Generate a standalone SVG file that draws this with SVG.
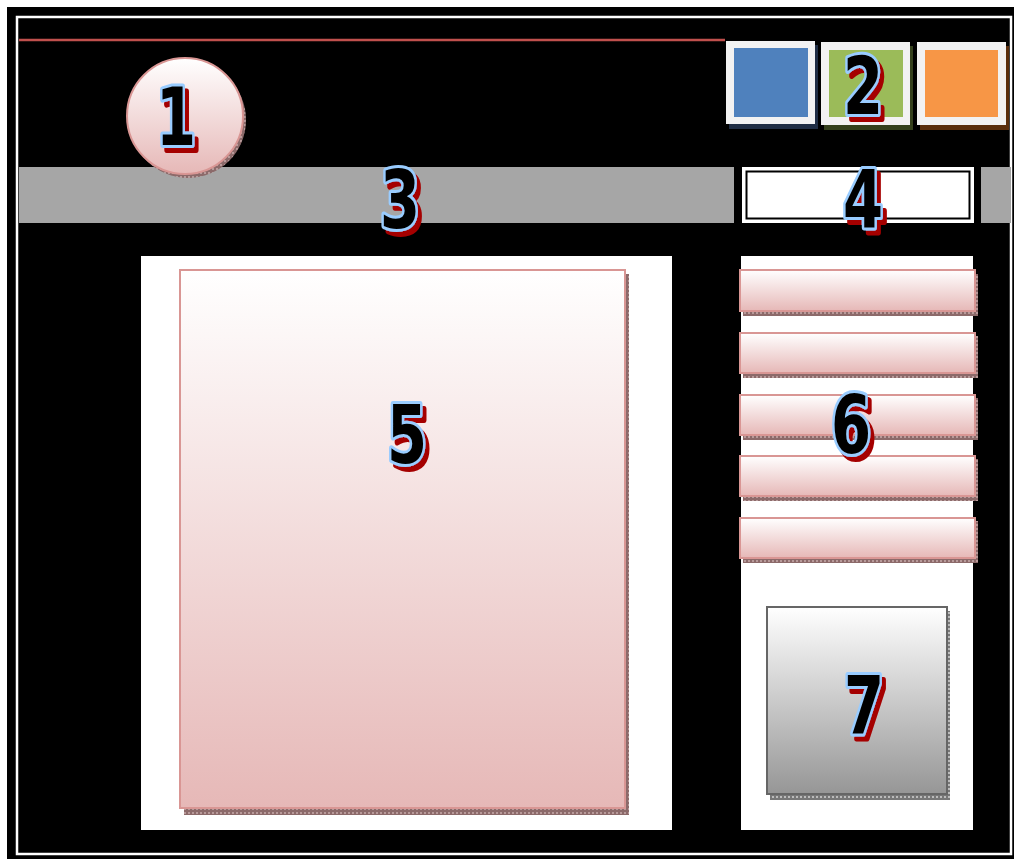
<svg xmlns="http://www.w3.org/2000/svg" width="1014" height="859" viewBox="0 0 1014 859">
<style>
.num{font-family:"Liberation Sans Narrow","DejaVu Sans Condensed",sans-serif;font-weight:bold;font-size:80px;text-anchor:middle;fill:#000;stroke:#99ccff;stroke-width:6;stroke-linejoin:round;paint-order:stroke fill;filter:url(#redShadow)}
.pink{fill:url(#gPink);stroke:#d99694;stroke-width:2}
.pshadow{fill:url(#hatch)}
</style>
<defs>
<filter id="redShadow" x="-30%" y="-30%" width="160%" height="160%">
<feOffset in="SourceAlpha" dx="5" dy="5" result="off"/>
<feFlood flood-color="#a50000"/>
<feComposite in2="off" operator="in" result="sh"/>
<feMerge><feMergeNode in="sh"/><feMergeNode in="SourceGraphic"/></feMerge>
</filter>
<linearGradient id="gPink" x1="0" y1="0" x2="0" y2="1">
<stop offset="0" stop-color="#ffffff"/><stop offset="1" stop-color="#e6b8b7"/>
</linearGradient>
<linearGradient id="gGray" x1="0" y1="0" x2="0" y2="1">
<stop offset="0" stop-color="#ffffff"/><stop offset="1" stop-color="#969696"/>
</linearGradient>
<pattern id="hatch" width="4" height="4" patternUnits="userSpaceOnUse">
<rect width="4" height="4" fill="#8c6a6a"/><rect width="2" height="2" fill="#b89a9a"/>
</pattern>
<pattern id="hatchG" width="4" height="4" patternUnits="userSpaceOnUse">
<rect width="4" height="4" fill="#777"/><rect width="2" height="2" fill="#bbb"/>
</pattern>
</defs>
<rect width="1014" height="859" fill="#ffffff"/>
<rect x="7" y="7" width="1014" height="852" fill="#000"/>
<rect x="17" y="17" width="994" height="837" fill="none" stroke="#fff" stroke-width="2.5"/>
<line x1="19" y1="40" x2="725" y2="40" stroke="#c0504d" stroke-width="2.5"/>

<g id="node3">
<rect x="19" y="167" width="715" height="56" fill="#a6a6a6"/>
<text class="num" transform="translate(400,228) scale(0.8,1)">3</text>
</g>

<g id="node1">
<circle cx="188" cy="120" r="58" fill="url(#hatch)"/>
<circle cx="185" cy="116" r="58" fill="url(#gPink)" stroke="#d99694" stroke-width="2"/>
<text class="num" transform="translate(176,145) scale(0.8,1)">1</text>
</g>

<g id="node2">
<rect x="729" y="45" width="89" height="84" fill="#1f2d44"/>
<rect x="726" y="41" width="89" height="83" fill="#f2f2f2"/>
<rect x="734" y="48" width="74" height="69" fill="#4f81bd"/>
<rect x="824" y="46" width="89" height="84" fill="#34401c"/>
<rect x="821" y="42" width="89" height="83" fill="#f2f2f2"/>
<rect x="829" y="50" width="74" height="67" fill="#9bbb59"/>
<rect x="920" y="46" width="89" height="84" fill="#5a2e0c"/>
<rect x="917" y="42" width="89" height="83" fill="#f2f2f2"/>
<rect x="925" y="50" width="73" height="67" fill="#f79646"/>
<text class="num" transform="translate(863,114) scale(0.8,1)">2</text>
</g>

<g id="node4">
<rect x="743" y="168" width="230" height="54" fill="#fff" stroke="#fff" stroke-width="2"/>
<rect x="746.5" y="171.5" width="223" height="47" fill="#fff" stroke="#000" stroke-width="2"/>
<text class="num" transform="translate(863,228) scale(0.8,1)">4</text>
</g>

<g id="bar-right">
<rect x="981" y="167" width="30" height="56" fill="#a6a6a6"/>
</g>

<g id="panel-left">
<rect x="141" y="256" width="531" height="574" fill="#fff"/>
</g>
<g id="panel-right">
<rect x="741" y="256" width="232" height="574" fill="#fff"/>
</g>

<g id="node5">
<rect x="184" y="274" width="445" height="541" class="pshadow"/>
<rect x="180" y="270" width="445" height="538" class="pink"/>
<text class="num" transform="translate(407,463) scale(0.8,1)">5</text>
</g>

<g id="node6">
<rect x="743" y="274" width="235" height="42" class="pshadow"/>
<rect x="740" y="270" width="235" height="41" class="pink"/>
<rect x="743" y="336" width="235" height="42" class="pshadow"/>
<rect x="740" y="333" width="235" height="40" class="pink"/>
<rect x="743" y="398" width="235" height="42" class="pshadow"/>
<rect x="740" y="395" width="235" height="40" class="pink"/>
<rect x="743" y="459" width="235" height="42" class="pshadow"/>
<rect x="740" y="456" width="235" height="40" class="pink"/>
<rect x="743" y="521" width="235" height="42" class="pshadow"/>
<rect x="740" y="518" width="235" height="40" class="pink"/>
<text class="num" transform="translate(851,453) scale(0.8,1)">6</text>
</g>

<g id="node7">
<rect x="770" y="611" width="180" height="189" fill="url(#hatchG)"/>
<rect x="767" y="607" width="180" height="187" fill="url(#gGray)" stroke="#666" stroke-width="2"/>
<text class="num" transform="translate(864,733) scale(0.8,1)">7</text>
</g>

<g id="connectors"></g>
</svg>
